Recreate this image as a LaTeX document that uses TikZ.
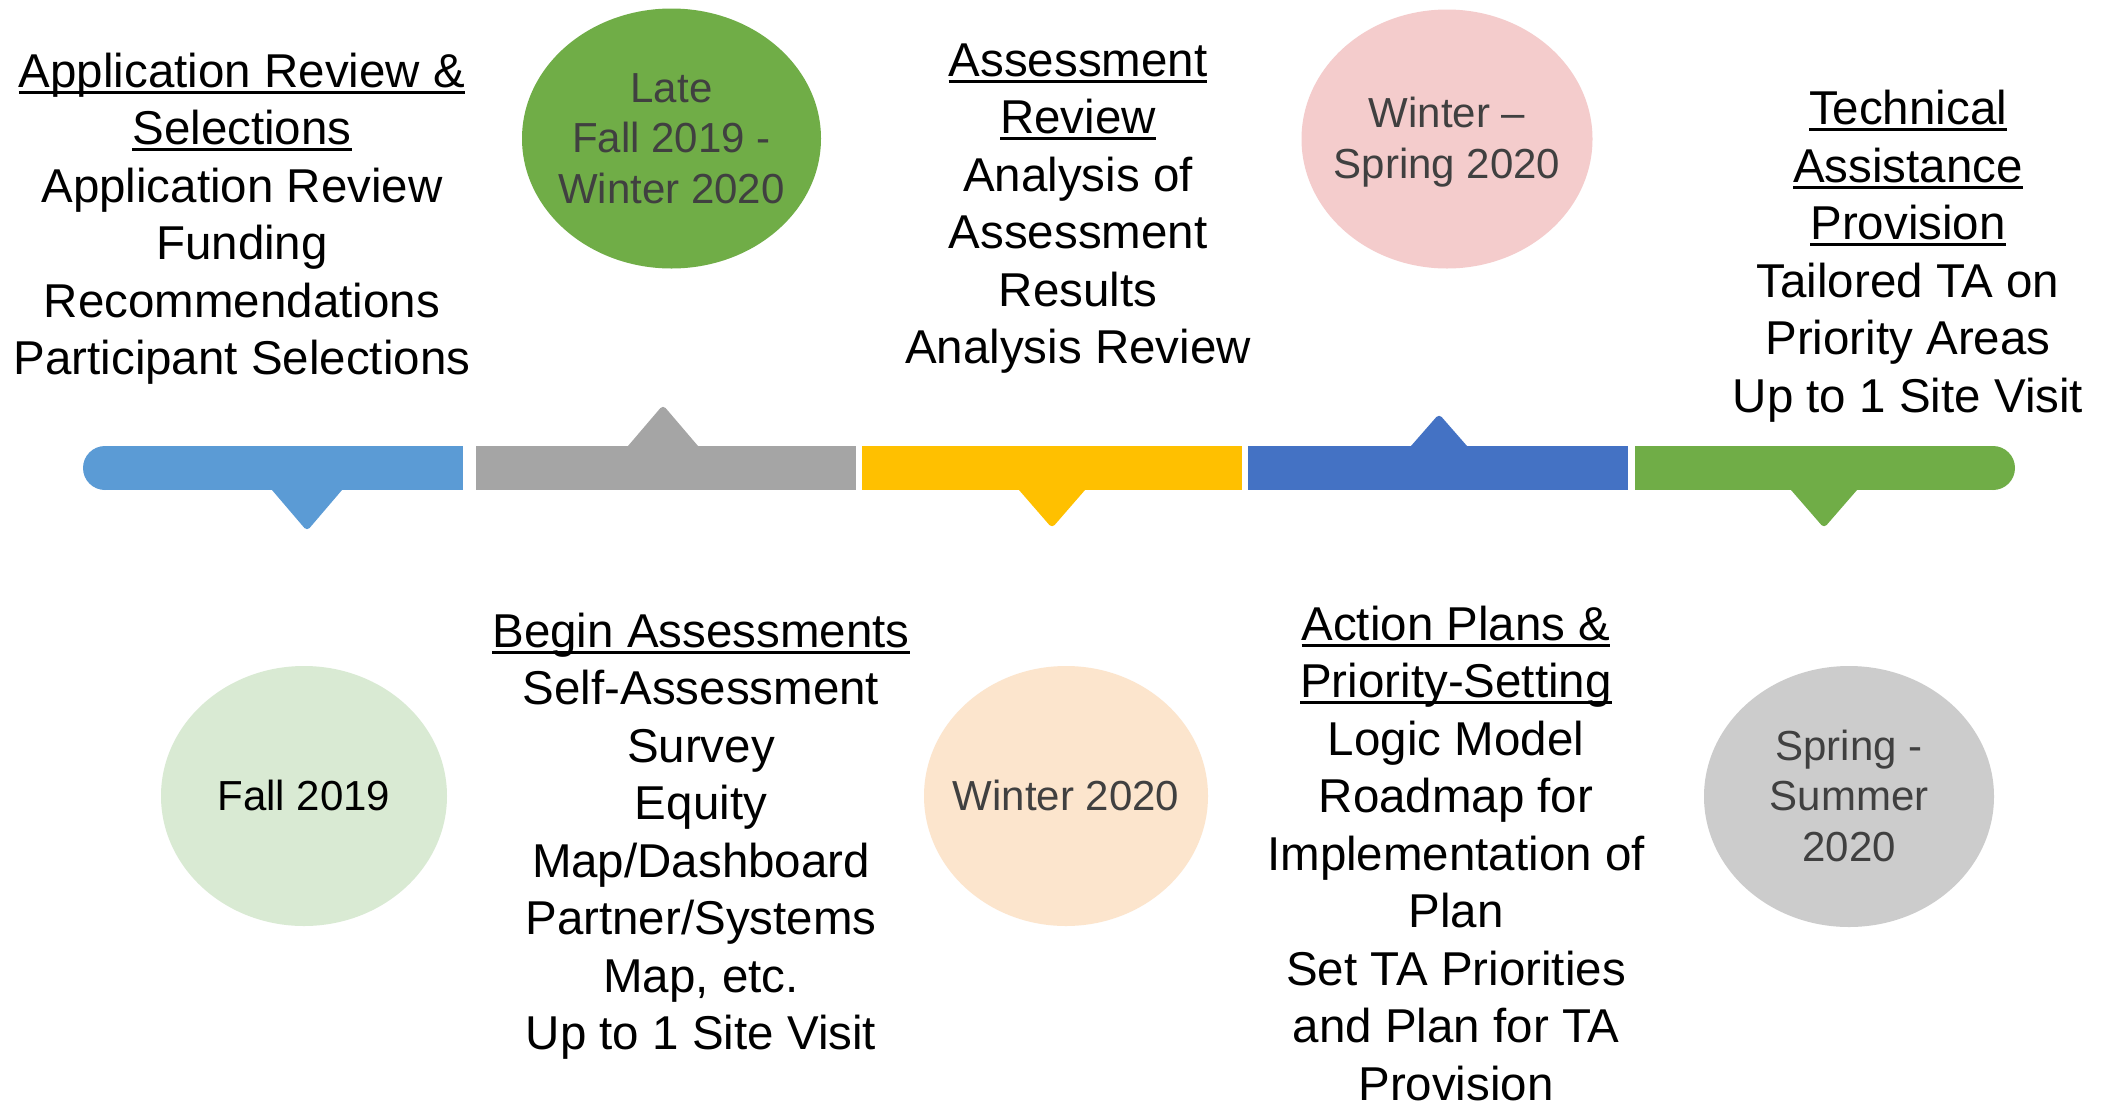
\documentclass[tikz,border=0pt]{standalone}
\usepackage{fontspec}
\setmainfont{Liberation Sans}
\usetikzlibrary{shapes.geometric}
\definecolor{cblue}{HTML}{5B9BD5}
\definecolor{cgray}{HTML}{A5A5A5}
\definecolor{cyellow}{HTML}{FFC000}
\definecolor{cdblue}{HTML}{4472C4}
\definecolor{cgreen}{HTML}{70AD47}
\definecolor{cpink}{HTML}{F4CCCC}
\definecolor{clgreen}{HTML}{D9EAD3}
\definecolor{cpeach}{HTML}{FCE5CD}
\definecolor{clgray}{HTML}{CCCCCC}
\definecolor{textgray}{HTML}{404040}
\newcommand{\ulx}[1]{\leavevmode\setbox0=\hbox{#1}\rlap{\rule[-6.5pt]{\wd0}{2.8pt}}\box0}
\newcommand{\cstr}{\rule[-11.25pt]{0pt}{50.5pt}}
\begin{document}
\begin{tikzpicture}[x=1pt,y=-1pt,
  bigtext/.style={inner sep=0pt, align=center, font=\fontsize{47.5}{57.5}\selectfont, text=black},
  dot/.style={ellipse, inner sep=0pt, draw=none},
  dottext/.style={inner sep=0pt, align=center, font=\fontsize{42}{50.5}\selectfont, text=textgray},
  tip/.style={rounded corners=4pt}
]
\useasboundingbox (0,0) rectangle (2107,1101);
\fill[white] (0,0) rectangle (2107,1101);

% timeline bar
\fill[cblue] (105,446) rectangle (463,490);
\fill[cblue] (105,468) circle[radius=22pt];
\fill[cblue, tip] (253.2,468) -- (307,531) -- (360.8,468) -- cycle;

\fill[cgray] (476,446) rectangle (856,490);
\fill[cgray, tip] (609.2,468) -- (663,405) -- (716.8,468) -- cycle;

\fill[cyellow] (862,446) rectangle (1242,490);
\fill[cyellow, tip] (999.9,468) -- (1052,528) -- (1104.1,468) -- cycle;

\fill[cdblue] (1248,446) rectangle (1628,490);
\fill[cdblue, tip] (1391.75,468) -- (1439,414) -- (1486.25,468) -- cycle;

\fill[cgreen] (1635,446) rectangle (1993,490);
\fill[cgreen] (1993,468) circle[radius=22pt];
\fill[cgreen, tip] (1771.9,468) -- (1824,528) -- (1876.1,468) -- cycle;

% date ellipses
\node[dot, fill=cgreen, minimum width=299pt, minimum height=260pt] (e1) at (671.5,138.5) {};
\node[dottext] (d1) at (e1.center) {\cstr Late\\Fall 2019 -\\Winter 2020\cstr};

\node[dot, fill=cpink, minimum width=291pt, minimum height=259pt] (e2) at (1447,139) {};
\node[dottext] (d2) at (e2.center) {\cstr Winter \textendash\\Spring 2020\cstr};

\node[dot, fill=clgreen, minimum width=286pt, minimum height=260pt] (e3) at (304,796) {};
\node[dottext, text=black] (d3) at (e3.center) {\cstr Fall 2019\cstr};

\node[dot, fill=cpeach, minimum width=284pt, minimum height=260pt] (e4) at (1066,796) {};
\node[dottext] (d4) at (e4.center) {\cstr Winter 2020\cstr};

\node[dot, fill=clgray, minimum width=290pt, minimum height=261pt] (e5) at (1849,796.5) {};
\node[dottext] (d5) at (e5.center) {\cstr Spring -\\Summer\\2020\cstr};

% phase texts
\node[bigtext] (t1) at (242,219.5) {\strut\ulx{Application Review \&}\\\ulx{Selections}\\Application Review\\Funding\\Recommendations\\Participant Selections\strut};
\node[bigtext] (t2) at (1078,208.25) {\strut\ulx{Assessment}\\\ulx{Review}\\Analysis of\\Assessment\\Results\\Analysis Review\strut};
\node[bigtext] (t3) at (1908,257) {\strut\ulx{Technical}\\\ulx{Assistance}\\\ulx{Provision}\\Tailored TA on\\Priority Areas\\Up to 1 Site Visit\strut};
\node[bigtext] (t4) at (701,836.75) {\strut\ulx{Begin Assessments}\\Self-Assessment\\Survey\\Equity\\Map/Dashboard\\Partner/Systems\\Map, etc.\\Up to 1 Site Visit\strut};
\node[bigtext] (t5) at (1456,858.5) {\strut\ulx{Action Plans \&}\\\ulx{Priority-Setting}\\Logic Model\\Roadmap for\\Implementation of\\Plan\\Set TA Priorities\\and Plan for TA\\Provision\strut};
\end{tikzpicture}
\end{document}
